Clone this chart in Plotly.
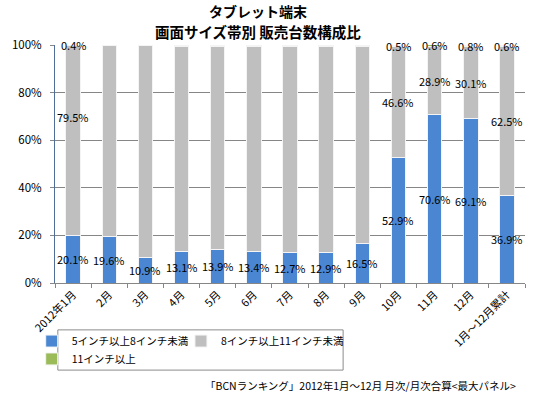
import plotly.graph_objects as go

categories = ["2012年1月", "2月", "3月", "4月", "5月", "6月", "7月", "8月", "9月",
              "10月", "11月", "12月", "1月～12月累計"]
small = [20.1, 19.6, 10.9, 13.1, 13.9, 13.4, 12.7, 12.9, 16.5, 52.9, 70.6, 69.1, 36.9]
medium = [79.5, 80.0, 88.7, 86.3, 85.5, 86.0, 86.7, 86.6, 82.9, 46.6, 28.9, 30.1, 62.5]
large = [0.4, 0.4, 0.4, 0.6, 0.6, 0.6, 0.6, 0.5, 0.6, 0.5, 0.6, 0.8, 0.6]

series_names = ["5インチ以上8インチ未満", "8インチ以上11インチ未満", "11インチ以上"]
colors = ["#4A86D2", "#BFBFBF", "#9BBB59"]
y_ticks = [0, 20, 40, 60, 80, 100]

# which labels are shown in the reference
medium_labeled = [0, 9, 10, 11, 12]
large_labeled = [0, 9, 10, 11, 12]
medium_label_shift = {0: 10}

FONT = "Noto Sans CJK JP"

fig = go.Figure()
legends = ["legend", "legend3", "legend2"]
for name, vals, col, lg in zip(series_names, [small, medium, large], colors, legends):
    fig.add_trace(go.Bar(
        x=categories, y=vals, name=name, legend=lg,
        marker=dict(color=col, line=dict(color="#F4F4F4", width=1)),
        width=0.4,
    ))

annotations = []
for i, c in enumerate(categories):
    annotations.append(dict(x=c, y=small[i] / 2, text=f"{small[i]:.1f}%", xref="x", yref="y",
                            showarrow=False, font=dict(size=11, color="#000")))
for i in medium_labeled:
    y = small[i] + medium[i] / 2 + medium_label_shift.get(i, 0)
    annotations.append(dict(x=categories[i], y=y, text=f"{medium[i]:.1f}%", xref="x", yref="y",
                            showarrow=False, font=dict(size=11, color="#000")))
for i in large_labeled:
    y = small[i] + medium[i] + large[i] / 2
    annotations.append(dict(x=categories[i], y=y, text=f"{large[i]:.1f}%", xref="x", yref="y",
                            showarrow=False, font=dict(size=11, color="#000")))

annotations.append(dict(text="「BCNランキング」2012年1月～12月 月次/月次合算<最大パネル>",
                        xref="paper", yref="paper", x=0.985, y=-0.429, xanchor="right",
                        yanchor="middle", showarrow=False, font=dict(size=10.5, color="#000")))
annotations.append(dict(text="<b>タブレット端末</b>", xref="paper", yref="paper",
                        x=(252 - 44) / 481, y=1.142, xanchor="center", yanchor="middle",
                        showarrow=False, font=dict(size=14, color="#000")))
annotations.append(dict(text="<b>画面サイズ帯別 販売台数構成比</b>", xref="paper", yref="paper",
                        x=(252 - 44) / 481, y=1.055, xanchor="center", yanchor="middle",
                        showarrow=False, font=dict(size=14.5, color="#000")))

legend_common = dict(orientation="h", xanchor="left", yanchor="middle",
                     borderwidth=0, bgcolor="rgba(0,0,0,0)",
                     itemwidth=30, font=dict(size=10.5, family=FONT), traceorder="normal")

fig.update_layout(
    width=538, height=398,
    margin=dict(l=44, r=13, t=45, b=115),
    paper_bgcolor="white", plot_bgcolor="white",
    barmode="stack",
    font=dict(family=FONT, size=11, color="#000"),
    showlegend=True,
    legend=dict(x=-0.0496, y=-0.244, **legend_common),
    legend3=dict(x=0.268, y=-0.244, **legend_common),
    legend2=dict(x=-0.0496, y=-0.319, **legend_common),
    annotations=annotations,
    shapes=[dict(type="rect", xref="paper", yref="paper", x0=0.006, x1=0.613,
                 y0=-0.366, y1=-0.197, line=dict(color="#8C8C8C", width=1),
                 fillcolor="rgba(0,0,0,0)")],
    xaxis=dict(type="category", tickangle=-45, showline=True, linecolor="#868686",
               ticks="outside", ticklen=4, tickcolor="#868686", tickson="boundaries",
               showgrid=False, tickfont=dict(size=11)),
    yaxis=dict(range=[0, 100], tickmode="array", tickvals=y_ticks,
               ticktext=[f"{v}%" for v in y_ticks], ticklabelstandoff=6,
               showline=True, linecolor="#4F6F9A", ticks="outside", ticklen=4,
               tickcolor="#868686", showgrid=True, gridcolor="#868686", gridwidth=1,
               zeroline=False, tickfont=dict(size=11.5)),
)

fig.write_html("out.html", config={"displayModeBar": False},
               post_script="document.body.style.margin='0';")
